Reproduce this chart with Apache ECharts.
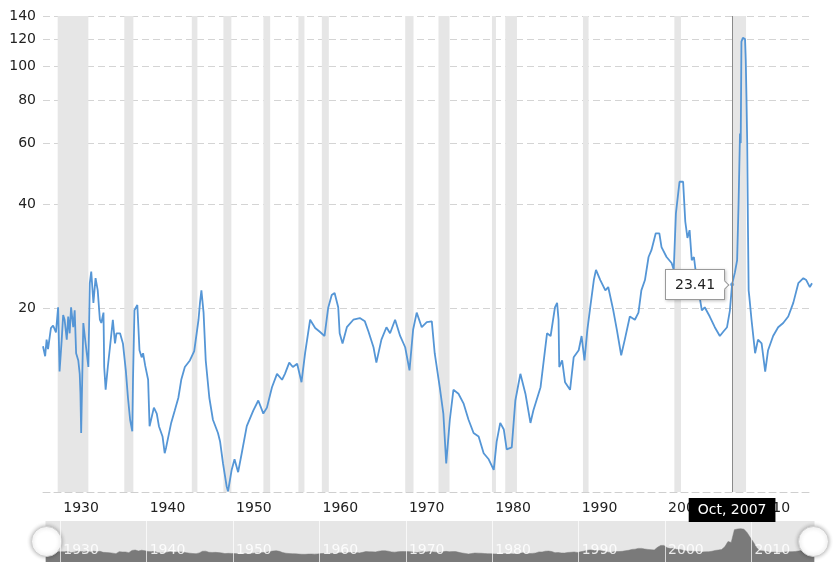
<!DOCTYPE html>
<html>
<head>
<meta charset="utf-8">
<script src="https://cdn.jsdelivr.net/npm/echarts@6/dist/echarts.min.js"></script>
<style>
html,body{margin:0;padding:0;background:#fff;}
#chart{width:836px;height:572px;}
</style>
</head>
<body>
<div id="chart"></div>
<script>
// ---- Data (S&P 500 PE ratio) ----
const dates = [
'1928-01','1928-04','1928-06','1928-08','1928-12','1929-03','1929-07','1929-10','1929-12',
'1930-03','1930-05','1930-07','1930-10','1930-12','1931-02','1931-04','1931-07','1931-09','1931-11',
'1932-02','1932-04','1932-05','1932-06','1932-09','1932-11','1933-01','1933-04','1933-06','1933-08','1933-11',
'1934-02','1934-05','1934-08','1934-10','1935-01','1935-02','1935-04','1935-07','1935-10',
'1936-02','1936-05','1936-07','1936-12','1937-04','1937-08','1937-11','1938-02','1938-05','1938-06','1938-08','1938-12',
'1939-03','1939-06','1939-08','1939-11','1940-03','1940-05','1940-11','1941-03','1941-06','1941-11',
'1942-02','1942-04','1942-11','1943-04','1943-09','1944-01','1944-06','1945-01','1945-07',
'1946-01','1946-03','1946-05','1946-08','1946-11','1947-04','1947-09','1948-04','1948-07','1948-11',
'1949-04','1949-06','1949-11','1950-03','1950-08','1951-01','1951-08','1952-05','1952-12',
'1953-07','1953-12','1954-07','1955-02','1955-09','1956-01','1956-07','1956-12','1957-06','1957-12',
'1958-05','1958-12','1959-07','1960-01','1960-08','1961-01','1961-06','1961-10','1962-03','1962-05','1962-09',
'1963-03','1963-12','1964-09','1965-04','1965-09','1966-04','1966-08','1967-03','1967-10',
'1968-03','1968-10','1969-05','1969-12','1970-06','1970-11','1971-04','1971-11','1972-06',
'1973-01','1973-05','1973-12','1974-05','1974-09','1975-02','1975-07','1976-02','1976-09',
'1977-04','1977-11','1978-06','1979-01','1979-08','1980-03','1980-07','1980-12','1981-05','1981-09',
'1982-04','1982-09','1983-04','1983-11','1984-06','1984-10','1985-08','1986-05','1986-10',
'1987-04','1987-07','1987-09','1987-10','1988-02','1988-06','1989-01','1989-06','1990-01','1990-05','1990-09',
'1991-01','1991-05','1991-10','1992-01','1992-07','1993-02','1993-06','1994-01','1994-06','1994-12',
'1995-05','1995-12','1996-07','1996-12','1997-04','1997-09','1998-02','1998-06','1998-12',
'1999-05','1999-08','2000-03','2000-10','2001-01','2001-04','2001-09','2002-02','2002-05','2002-08','2002-11',
'2003-02','2003-05','2003-09','2004-01','2004-04','2004-08','2005-03','2005-10','2006-05','2006-10',
'2007-03','2007-07','2007-10','2008-02','2008-05','2008-07','2008-09','2008-10','2008-11',
'2009-01','2009-03','2009-04','2009-05','2009-06','2009-07','2009-08','2009-09','2009-10',
'2010-01','2010-06','2010-10','2011-03','2011-08','2011-12','2012-07','2013-02','2013-09',
'2014-04','2014-11','2015-06','2016-01','2016-05','2016-10','2017-01'
];
const peValues = [
15.5,14.5,16.2,15.2,17.5,17.8,17.0,20.1,13.1,
16.2,19.1,18.5,16.2,18.9,16.9,20.1,17.6,19.7,14.8,
14.1,12.9,11.3,8.7,18.1,16.6,16.5,13.5,23.6,25.5,20.7,
24.4,22.5,18.5,18.1,19.4,13.5,11.6,13.5,15.4,
18.5,15.8,16.9,16.9,15.8,13.2,11.0,9.5,8.8,12.4,19.7,20.4,
15.1,14.4,14.8,13.6,12.4,9.1,10.3,9.9,9.1,8.5,
7.6,7.9,9.3,10.1,11.0,12.4,13.5,14.1,15.0,
18.5,20.7,22.5,19.4,14.1,11.0,9.5,8.7,8.2,7.1,
6.1,5.9,6.8,7.3,6.7,7.6,9.1,10.1,10.8,
9.9,10.3,11.8,12.9,12.4,12.9,13.9,13.5,13.8,12.2,
14.8,18.5,17.5,17.1,16.6,20.0,21.8,22.1,20.1,16.9,15.8,
17.6,18.5,18.7,18.3,17.1,15.4,13.9,16.2,17.6,
16.9,18.5,16.6,15.4,13.2,17.3,19.4,17.6,18.2,
18.3,14.8,11.8,9.9,7.1,9.5,11.6,11.3,10.6,
9.5,8.7,8.5,7.6,7.3,6.8,8.2,9.3,8.9,7.8,
7.9,10.8,12.9,11.3,9.3,10.1,11.8,16.9,16.6,
20.1,20.7,18.5,13.5,14.1,12.2,11.6,14.4,15.1,16.6,14.1,
17.3,20.1,24.1,25.8,24.1,22.5,23.0,19.7,17.3,14.6,
16.2,18.9,18.5,19.4,22.5,24.1,28.1,29.4,32.9,
32.9,30.0,28.1,27.0,25.8,37.6,46.4,46.4,35.6,31.9,33.6,
27.5,28.1,24.1,21.5,19.7,20.1,18.9,17.6,16.6,17.1,
17.6,19.7,23.41,25.4,27.5,40.0,64.0,60.0,118.0,
121.0,122.5,120.0,104.0,81.0,60.0,35.0,22.5,21.5,
18.5,14.8,16.2,15.8,13.1,15.1,16.6,17.6,18.1,
18.9,20.7,23.6,24.4,24.1,23.0,23.6
];
// Recession periods (decimal years)
const recessionStart = [1929.70,1937.41,1945.22,1948.88,1953.51,1957.56,1960.27,1969.92,1973.77,1979.96,1981.50,1990.49,2001.07,2007.82];
const recessionEnd   = [1933.25,1938.46,1945.87,1949.80,1954.29,1958.26,1961.08,1970.88,1975.05,1980.42,1982.85,1991.14,2001.84,2009.37];
// Tick labels
const xLabelYears = [1930,1940,1950,1960,1970,1980,1990,2000,2010];
const yTickValues = [20,40,60,80,100,120,140];
const highlightDate = '2007-10';
const monthNames = ['Jan','Feb','Mar','Apr','May','Jun','Jul','Aug','Sep','Oct','Nov','Dec'];

// ---- Build ----
function toYear(s){ const p = s.split('-').map(Number); return p[0] + (p[1]-1)/12; }
const lineData = dates.map((d,i)=>[toYear(d), peValues[i]]);
const hiIdx = dates.indexOf(highlightDate);
const hiPoint = [toYear(highlightDate), peValues[hiIdx]];
const bands = recessionStart.map((s,i)=>[{xAxis:s},{xAxis:recessionEnd[i]}]);
const FONT = 'DejaVu Sans';

const chart = echarts.init(document.getElementById('chart'), null, {renderer:'canvas'});
const option = {
  animation: false,
  backgroundColor: '#fff',
  grid: [
    {left:43, right:24, top:16, bottom:80, containLabel:false},
    {left:43, right:24, top:521, height:41, containLabel:false}
  ],
  xAxis: [
    {
      type:'value', gridIndex:0, min:1928, max:2017,
      axisLine:{show:true, lineStyle:{color:'#cfcfcf', type:[7,4]}},
      axisTick:{show:false},
      splitLine:{show:false},
      axisLabel:{customValues:xLabelYears, formatter:v=>String(Math.round(v)), align:'left', margin:9,
                 color:'#222', fontSize:14, fontFamily:FONT, padding:[0,0,0,3]},
      axisPointer:{
        show:true, type:'line', value:hiPoint[0], status:'show', snap:false, triggerTooltip:false,
        lineStyle:{color:'#8a8a8a', width:1, type:'solid'},
        label:{show:true, margin:6, backgroundColor:'#000', color:'#fff', fontSize:14, fontFamily:FONT,
               padding:[5,9,5,9], borderRadius:0,
               formatter:p=>{ const v=p.value; const y=Math.floor(v+1e-6); const m=Math.round((v-y)*12); return monthNames[m]+', '+y; }}
      }
    },
    {
      type:'value', gridIndex:1, min:1928, max:2017, z:6,
      axisLine:{show:false}, axisTick:{show:false, customValues:xLabelYears},
      splitLine:{show:true, lineStyle:{color:'rgba(255,255,255,0.7)', width:1}},
      axisLabel:{customValues:xLabelYears, formatter:v=>String(Math.round(v)), inside:true, align:'left', margin:5,
                 color:'rgba(255,255,255,0.85)', fontSize:14, fontFamily:FONT, padding:[0,0,0,3]},
      axisPointer:{show:false}
    }
  ],
  yAxis: [
    {
      type:'log', gridIndex:0, min:5.87, max:140, logBase:10,
      axisLine:{show:false}, axisTick:{show:false, customValues:yTickValues},
      splitLine:{show:true, lineStyle:{color:'#d4d4d4', type:[7,4], width:1}},
      axisLabel:{customValues:yTickValues, formatter:v=>String(Math.round(v)), color:'#222', fontSize:14, fontFamily:FONT, margin:7}
    },
    {type:'value', gridIndex:1, show:false, min:0, max:1}
  ],
  tooltip: {
    trigger:'item', triggerOn:'none', alwaysShowContent:true, position:'left',
    backgroundColor:'#fff', borderColor:'#9a9a9a', borderWidth:1, borderRadius:0,
    padding:[4,9], transitionDuration:0,
    textStyle:{color:'#222', fontSize:14, fontFamily:FONT},
    extraCssText:'box-shadow:1px 1px 3px rgba(0,0,0,0.25); margin-left:5px;',
    formatter:p=>Number(p.value[1]).toFixed(2)
  },
  dataZoom: [{
    type:'slider', xAxisIndex:0, left:43, right:24, bottom:10, height:41,
    showDetail:false, brushSelect:false, moveHandleSize:0,
    borderColor:'transparent', backgroundColor:'#e6e6e6', fillerColor:'rgba(0,0,0,0)',
    dataBackground:{lineStyle:{color:'#7a7a7a', width:0.5, opacity:1}, areaStyle:{color:'#7a7a7a', opacity:1}},
    selectedDataBackground:{lineStyle:{color:'#7a7a7a', width:0.5, opacity:1}, areaStyle:{color:'#7a7a7a', opacity:1}},
    handleIcon:'circle', handleSize:30,
    handleStyle:{color:'#fff', borderColor:'#d0d0d0', borderWidth:1, shadowBlur:4, shadowColor:'rgba(0,0,0,0.3)'},
    emphasis:{handleStyle:{color:'#fff'}},
    textStyle:{color:'transparent'}
  }],
  series: [
    {
      type:'line', xAxisIndex:0, yAxisIndex:0, data:lineData, showSymbol:false, z:3,
      lineStyle:{color:'#5596d6', width:1.8}, itemStyle:{color:'#5596d6'},
      emphasis:{disabled:true},
      markArea:{silent:true, itemStyle:{color:'#e6e6e6'}, data:bands}
    },
    {
      type:'scatter', xAxisIndex:0, yAxisIndex:0, data:[hiPoint], symbolSize:4, z:4,
      itemStyle:{color:'#5596d6'}
    }
  ]
};
chart.setOption(option);
chart.dispatchAction({type:'showTip', seriesIndex:1, dataIndex:0, position:'left'});
</script>
</body>
</html>
